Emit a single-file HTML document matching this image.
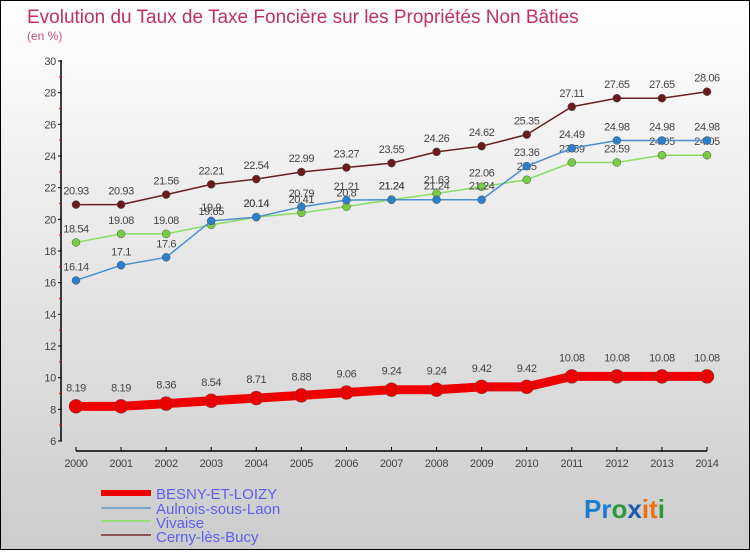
<!DOCTYPE html>
<html><head><meta charset="utf-8"><style>
body{margin:0}
#c{width:748px;height:548px;border:1px solid #000;background:linear-gradient(#fff,#ccc);position:relative;font-family:"Liberation Sans",sans-serif}
</style></head><body>
<div id="c">
<svg id="s" width="748" height="548" xmlns="http://www.w3.org/2000/svg">
<text x="26" y="22" font-size="19" fill="#c03060">Evolution du Taux de Taxe Foncière sur les Propriétés Non Bâties</text>
<text x="26" y="39" font-size="12" fill="#c05080">(en %)</text>
<g id="g"></g>
<g font-size="15" fill="#6060f0">
<line x1="100" y1="492" x2="150" y2="492" stroke="#e00" stroke-width="6"/><text x="155" y="498">BESNY-ET-LOIZY</text>
<line x1="100" y1="507" x2="150" y2="507" stroke="#7aa6cc" stroke-width="2"/><text x="155" y="513">Aulnois-sous-Laon</text>
<line x1="100" y1="520" x2="150" y2="520" stroke="#99dd77" stroke-width="2"/><text x="155" y="527">Vivaise</text>
<line x1="100" y1="534" x2="150" y2="534" stroke="#8a5555" stroke-width="2"/><text x="155" y="541">Cerny-lès-Bucy</text>
</g>
<text x="583" y="517" font-size="26" font-weight="bold"><tspan fill="#1a7bd0">Pr</tspan><tspan fill="#2a9a3a">o</tspan><tspan fill="#1a5bb0">x</tspan><tspan fill="#f07010">it</tspan><tspan fill="#2a9a3a">i</tspan></text>
</svg></div>
<script>
const years=[2000,2001,2002,2003,2004,2005,2006,2007,2008,2009,2010,2011,2012,2013,2014];
const yTicks=[6,8,10,12,14,16,18,20,22,24,26,28,30];
const besny=[8.19,8.19,8.36,8.54,8.71,8.88,9.06,9.24,9.24,9.42,9.42,10.08,10.08,10.08,10.08];
const aulnois=[16.14,17.1,17.6,19.9,20.14,20.79,21.21,21.24,21.24,21.24,23.36,24.49,24.98,24.98,24.98];
const vivaise=[18.54,19.08,19.08,19.65,20.14,20.41,20.8,21.24,21.63,22.06,22.5,23.59,23.59,24.05,24.05];
const cerny=[20.93,20.93,21.56,22.21,22.54,22.99,23.27,23.55,24.26,24.62,25.35,27.11,27.65,27.65,28.06];
const NS="http://www.w3.org/2000/svg",g=document.getElementById('g');
const X=i=>75+i*(706-75)/(years.length-1);
const Y=v=>440-(v-6)*(380/24);
function el(t,a,p){const e=document.createElementNS(NS,t);for(const k in a)e.setAttribute(k,a[k]);(p||g).appendChild(e);return e;}
const ax=el('line',{x1:60,y1:59,x2:60,y2:440,stroke:'#000','stroke-width':1.5});


const bx=el('line',{x1:75,y1:450,x2:706,y2:450,stroke:'#000','stroke-width':1.5});


yTicks.forEach((v,i)=>{
 el('line',{x1:57,y1:Y(v),x2:61,y2:Y(v),stroke:'#000'});
 if(i<yTicks.length-1)el('line',{x1:58,y1:Y(v+1),x2:61,y2:Y(v+1),stroke:'#e00'});
 const t=el('text',{x:55,y:Y(v)+4,'font-size':11,fill:'#444','text-anchor':'end','letter-spacing':'-0.3'});t.textContent=v;
 
 
});
years.forEach((yr,i)=>{
 el('line',{x1:X(i),y1:446,x2:X(i),y2:450,stroke:'#000'});
 const t=el('text',{x:X(i),y:466,'font-size':11,fill:'#444','text-anchor':'middle','letter-spacing':'-0.3'});t.textContent=yr;
 
 
});
function series(d,col,pt,lw,r,name,gap){
 const p=el('polyline',{points:d.map((v,i)=>X(i)+','+Y(v)).join(' '),fill:'none',stroke:col,'stroke-width':lw});
 
 
 d.forEach((v,i)=>{
  const c=el('circle',{cx:X(i),cy:Y(v),r:r,fill:pt,stroke:'#555','stroke-width':0.5});
  
  
  const t=el('text',{x:X(i),y:Y(v)-r-gap,'font-size':11,fill:'#444','text-anchor':'middle','letter-spacing':'-0.4'});t.textContent=v;
  
  
 });
}
series(cerny,'#6a2020','#6a1a1a',1.5,4,'cerny',6);
series(vivaise,'#88dd66','#77cc44',1.5,4,'vivaise',6);
series(aulnois,'#4a90d0','#2a80cc',1.5,4,'aulnois',6);
series(besny,'#ee0000','#ee0000',9,7,'besny',8);
</script>
</body></html>
